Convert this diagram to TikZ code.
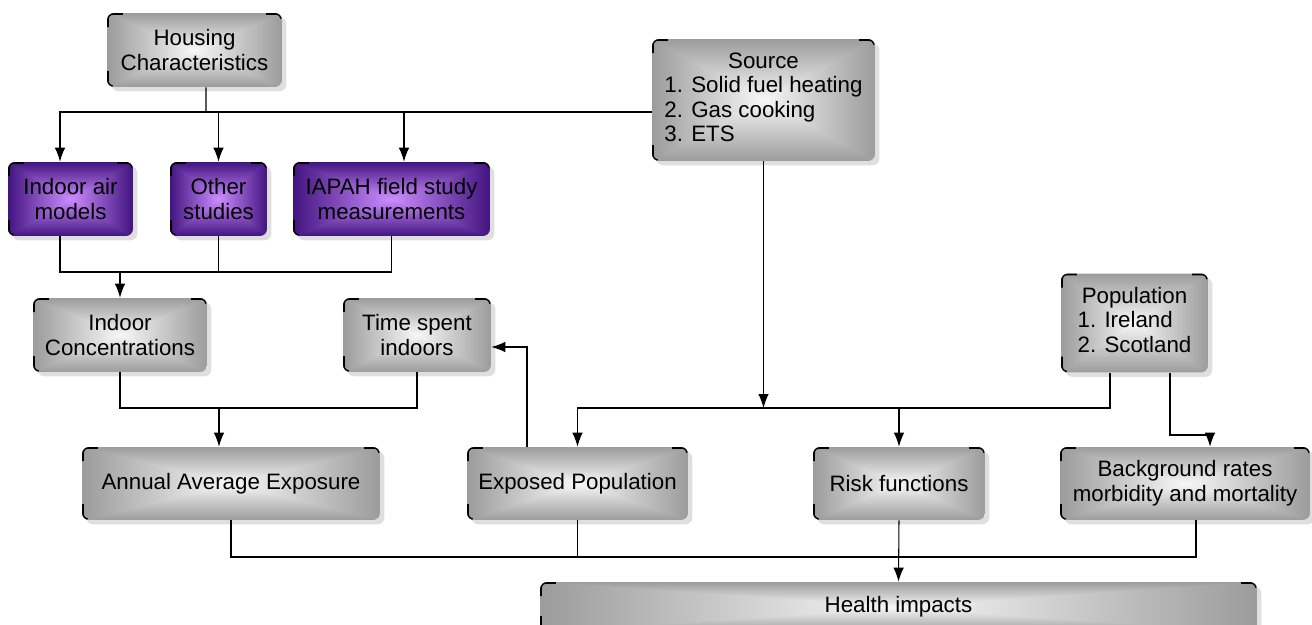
\documentclass[tikz,border=0pt]{standalone}
\usepackage{fontspec}
\setmainfont{Liberation Sans}
\usepackage{tikz}
\usetikzlibrary{arrows.meta,shadows}

% box-shaped gradients: dark at the border, light in the middle
\pgfdeclarefunctionalshading{boxgray}{\pgfpoint{0bp}{0bp}}{\pgfpoint{100bp}{100bp}}{}{
  50 sub abs exch 50 sub abs 2 copy lt {exch} if pop 25 div
  dup 1 gt {pop 1} if
  dup dup -0.36 mul 0.97 add 3 1 roll -0.36 mul 0.97 add exch -0.36 mul 0.97 add}
\pgfdeclarefunctionalshading{boxpurple}{\pgfpoint{0bp}{0bp}}{\pgfpoint{100bp}{100bp}}{}{
  50 sub abs exch 50 sub abs 2 copy lt {exch} if pop 25 div
  dup 1 gt {pop 1} if
  dup dup -0.54 mul 0.80 add 3 1 roll -0.47 mul 0.55 add exch -0.50 mul 1.0 add}

\tikzset{
  >={Latex[length=2.8mm,width=2.1mm]},
  box/.style={rectangle, rounded corners=4pt, shading=boxgray, align=center,
    drop shadow={opacity=0.25, shadow xshift=2.5pt, shadow yshift=-2.5pt},
    font=\fontsize{12.7}{14}\selectfont, inner sep=2pt,
    path picture={
      \draw[line width=2pt, rounded corners=3pt]
        ([yshift=-8pt]path picture bounding box.north west) |- ([xshift=9pt]path picture bounding box.north west);
      \draw[line width=2pt, rounded corners=3pt]
        ([xshift=-9pt]path picture bounding box.north east) -| ([yshift=-3pt]path picture bounding box.north east);
      \draw[line width=2pt, rounded corners=3pt]
        ([yshift=9pt]path picture bounding box.south west) |- ([xshift=3pt]path picture bounding box.south west);
    }},
  studybox/.style={box, shading=boxpurple},
  link/.style={line width=0.6pt}
}

\begin{document}
\begin{tikzpicture}[x=0.02cm, y=-0.02cm]
  \useasboundingbox (0,0) rectangle (1312,625);

  \node[box, minimum width=3.5cm, minimum height=1.48cm] (hous) at (194.5,50) {Housing\\Characteristics};
  \node[box, minimum width=4.46cm, minimum height=2.44cm] (src) at (763.5,100)
    {\begin{tabular}{@{}l@{}}\multicolumn{1}{@{}c@{}}{Source}\\1. Solid fuel heating\\2. Gas cooking\\3. ETS\end{tabular}};

  \node[studybox, minimum width=2.5cm, minimum height=1.48cm] (iam) at (70.5,199) {Indoor air\\models};
  \node[studybox, minimum width=1.94cm, minimum height=1.48cm] (oth) at (218.5,199) {Other\\studies};
  \node[studybox, minimum width=3.94cm, minimum height=1.48cm] (iapah) at (391.5,199) {IAPAH field study\\measurements};

  \node[box, minimum width=3.48cm, minimum height=1.48cm] (conc) at (120,335) {Indoor\\Concentrations};
  \node[box, minimum width=2.96cm, minimum height=1.48cm] (time) at (417,335) {Time spent\\indoors};
  \node[box, minimum width=2.94cm, minimum height=1.98cm] (pop) at (1134.5,323)
    {\begin{tabular}{@{}l@{}}\multicolumn{1}{@{}c@{}}{Population}\\1. Ireland\\2. Scotland\end{tabular}};

  \node[box, minimum width=5.96cm, minimum height=1.46cm] (ann) at (231,483.5) {Annual Average Exposure};
  \node[box, minimum width=4.42cm, minimum height=1.46cm] (expo) at (577.5,483.5) {Exposed Population};
  \node[box, minimum width=3.44cm, minimum height=1.46cm] (risk) at (899,483.5) {Risk functions};
  \node[box, minimum width=5.0cm, minimum height=1.46cm] (back) at (1185,483.5) {Background rates\\morbidity and mortality};

  \node[box, minimum width=14.34cm, minimum height=1.0cm] (health) at (898.5,607) {Health impacts};

  % junctions
  \coordinate (busA) at (206,112);
  \coordinate (busB) at (120,272);
  \coordinate (busC) at (219,408);
  \coordinate (busD) at (763.5,408);
  \coordinate (busE) at (1190,435);
  \coordinate (busF) at (899,557);

  \draw[link] ([xshift=0.23cm]hous.south) -- (busA);
  \draw[link,->] (src.west |- busA) -| ([xshift=-0.21cm]iam.north);
  \draw[link,->] (busA) -| (oth.north);
  \draw[link,->] (busA) -| ([xshift=0.25cm]iapah.north);

  \draw[link,->] ([xshift=-0.21cm]iam.south) |- (busB) -- (conc.north);
  \draw[link] (oth.south) |- (busB);
  \draw[link] (iapah.south) |- (busB);

  \draw[link,->] (conc.south) |- (busC) -- (ann.north -| busC);
  \draw[link] (time.south) |- (busC);

  \draw[link,->] (src.south) -- (busD);
  \draw[link,->] (busD) -| (expo.north);
  \draw[link,->] (busD) -| (risk.north);
  \draw[link] ([xshift=-0.49cm]pop.south) |- (busD);
  \draw[link,->] ([xshift=0.71cm]pop.south) |- (busE) -| ([xshift=0.5cm]back.north);

  \draw[link,->] ([xshift=-1.01cm]expo.north) |- ([yshift=-0.24cm]time.east);

  \draw[link] (ann.south) |- (busF);
  \draw[link] (expo.south) |- (busF);
  \draw[link] ([xshift=0.22cm]back.south) |- (busF);
  \draw[link,->] (risk.south) -- (health.north);
\end{tikzpicture}
\end{document}
